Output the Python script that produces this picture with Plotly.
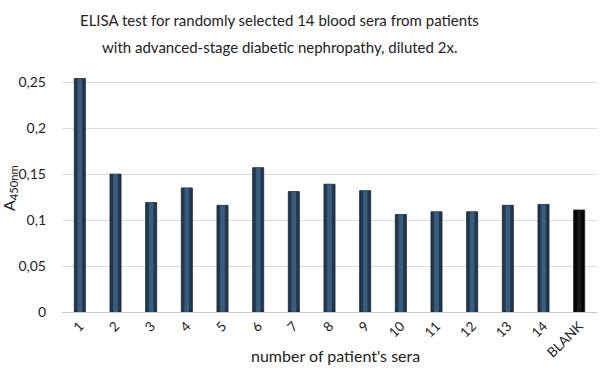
import plotly.graph_objects as go

categories = ["1", "2", "3", "4", "5", "6", "7", "8", "9", "10", "11", "12", "13", "14", "BLANK"]
values = [0.254, 0.150, 0.119, 0.135, 0.116, 0.157, 0.131, 0.139, 0.132, 0.106, 0.109, 0.109, 0.116, 0.117, 0.111]
outer_colors = ["#22384f"] * 14 + ["#050505"]
inner_colors = ["#3a5c7d"] * 14 + ["#1a1a1a"]
y_ticks = [0, 0.05, 0.1, 0.15, 0.2, 0.25]
title_lines = ["ELISA test for randomly selected 14 blood sera from patients",
               "with advanced-stage diabetic nephropathy, diluted 2x."]
x_title = "number of patient's sera"
y_title = "A<sub>450nm</sub>"

font_family = "Lato, Open Sans, sans-serif"
txt = "#222222"

W, H, L, R, T, B = 601, 369, 62, 4, 73, 57
plot_h = H - T - B
plot_w = W - L - R


def py2paper(py):
    return (H - B - py) / plot_h


def px2paper(px):
    return (px - L) / plot_w


fig = go.Figure()
fig.add_trace(go.Bar(
    x=categories, y=values,
    marker=dict(color=outer_colors, line=dict(color="#15222f", width=0.8)),
    width=0.31, hoverinfo="skip",
))
fig.add_trace(go.Bar(
    x=categories, y=values,
    marker=dict(color=inner_colors, line=dict(width=0)),
    width=0.13,
))

annotations = []
for i, line in enumerate(title_lines):
    annotations.append(dict(
        text=line, xref="paper", yref="paper", x=px2paper(279), y=py2paper(20 + 27 * i),
        xanchor="center", yanchor="middle", showarrow=False,
        font=dict(size=15, family=font_family, color=txt),
    ))
annotations.append(dict(
    text=x_title, xref="paper", yref="paper", x=px2paper(335), y=py2paper(355),
    xanchor="center", yanchor="middle", showarrow=False,
    font=dict(size=16, family=font_family, color=txt),
))
annotations.append(dict(
    text=y_title, xref="paper", yref="paper", x=px2paper(9), y=py2paper(188),
    xanchor="center", yanchor="middle", showarrow=False, textangle=-90,
    font=dict(size=16, family=font_family, color=txt),
))

fig.update_layout(
    width=W, height=H,
    margin=dict(l=L, r=R, t=T, b=B),
    paper_bgcolor="white", plot_bgcolor="white",
    separators=",.",
    showlegend=False,
    barmode="overlay",
    font=dict(family=font_family, color=txt),
    annotations=annotations,
    xaxis=dict(
        automargin=False,
        tickangle=-45,
        tickfont=dict(size=13.5, color=txt),
        showline=True, linecolor="#c8c8c8", linewidth=1,
        ticks="",
    ),
    yaxis=dict(
        automargin=False,
        range=[0, 0.26],
        tickvals=y_ticks,
        tickfont=dict(size=14, color=txt),
        showgrid=True, gridcolor="#dcdcdc", gridwidth=1,
        zeroline=False,
        ticks="",
        ticklabelstandoff=15,
    ),
)

fig.write_html("out.html")
